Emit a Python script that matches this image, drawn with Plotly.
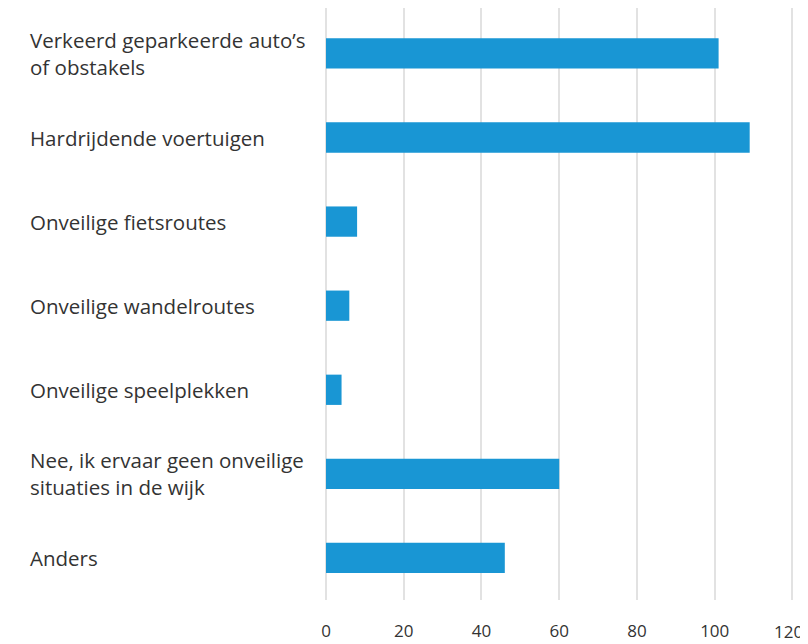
import plotly.graph_objects as go

categories = [
    "Verkeerd geparkeerde auto’s<br>of obstakels",
    "Hardrijdende voertuigen",
    "Onveilige fietsroutes",
    "Onveilige wandelroutes",
    "Onveilige speelplekken",
    "Nee, ik ervaar geen onveilige<br>situaties in de wijk",
    "Anders",
]
values = [101, 109, 8, 6, 4, 60, 46]
x_ticks = [0, 20, 40, 60, 80, 100, 120]

FONT = "Open Sans"
TXT = "#333333"

fig = go.Figure(
    go.Bar(
        x=values,
        y=list(range(len(categories))),
        orientation="h",
        marker=dict(color="#1996d4", line=dict(width=0)),
        width=0.36,
        hoverinfo="x",
    )
)

for i, c in enumerate(categories):
    fig.add_annotation(
        x=0, xref="paper", xshift=-298, xanchor="left",
        y=i, yref="y", text=c, align="left", showarrow=False,
        font=dict(family=FONT, size=20.5, color=TXT),
    )

# last tick label drawn right-anchored so it is not clipped at the page edge
fig.add_annotation(
    x=x_ticks[-1], xref="x", xanchor="right", xshift=13,
    y=0, yref="paper", yanchor="middle", yshift=-31,
    text=str(x_ticks[-1]), showarrow=False,
    font=dict(family=FONT, size=17, color=TXT),
)

fig.update_layout(
    width=800, height=636,
    margin=dict(l=318, r=0, t=0, b=44),
    plot_bgcolor="white", paper_bgcolor="white",
    showlegend=False,
    xaxis=dict(
        range=[0, 124], tickvals=x_ticks,
        ticktext=[str(v) for v in x_ticks[:-1]] + [""],
        showgrid=True, gridcolor="#e2e2e2", gridwidth=2,
        zeroline=True, zerolinecolor="#e2e2e2", zerolinewidth=2,
        showline=False, ticks="outside", ticklen=16, tickcolor="rgba(0,0,0,0)",
        tickfont=dict(family=FONT, size=17, color=TXT),
        automargin=False,
    ),
    yaxis=dict(
        range=[6.5, -0.54], showticklabels=False, showgrid=False,
        zeroline=False, showline=False, automargin=False,
    ),
)

fig.write_html("out.html")
